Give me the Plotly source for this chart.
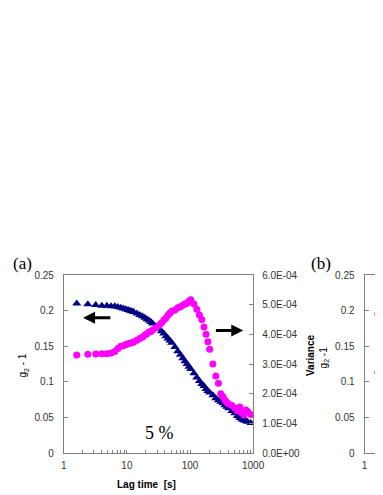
import plotly.graph_objects as go

W, H = 383, 495

# lag times of the correlator channels [s]
lag_time = [
    1.6, 2.4, 3.2, 4.0, 4.8, 5.6, 6.4, 7.2, 8.0, 8.8, 9.6, 10.4, 11.2, 12.0, 12.8,
    14.4, 16.0, 17.6, 19.2, 20.8, 22.4, 24.0, 25.6,
    28.8, 32.0, 35.2, 38.4, 41.6, 44.8, 48.0, 51.2,
    57.6, 64.0, 70.4, 76.8, 83.2, 89.6, 96.0, 102.4,
    115.2, 128.0, 140.8, 153.6, 166.4, 179.2, 192.0, 204.8,
    230.4, 256.0, 281.6, 307.2, 332.8, 358.4, 384.0, 409.6,
    460.8, 512.0, 563.2, 614.4, 665.6, 716.8, 768.0, 819.2,
    921.6,
]

# g2 - 1 (left axis, triangles)
g2_minus_1 = [
    0.210, 0.209, 0.208, 0.207, 0.207, 0.206, 0.206, 0.205, 0.204, 0.203,
    0.202, 0.201, 0.200, 0.199, 0.198,
    0.196, 0.194, 0.192, 0.190, 0.188, 0.186, 0.184, 0.182,
    0.178, 0.175, 0.171, 0.168, 0.164, 0.161, 0.158, 0.155,
    0.149, 0.143, 0.138, 0.133, 0.129, 0.125, 0.121, 0.118,
    0.112, 0.106, 0.101, 0.097, 0.094, 0.090, 0.087, 0.085,
    0.081, 0.077, 0.074, 0.072, 0.070, 0.067, 0.065, 0.063,
    0.059, 0.056, 0.052, 0.049, 0.047, 0.046, 0.045, 0.044,
    0.042,
]

# variance (right axis, circles)
variance = [
    3.30e-4, 3.33e-4, 3.34e-4, 3.35e-4, 3.35e-4, 3.37e-4, 3.42e-4, 3.52e-4,
    3.60e-4, 3.62e-4, 3.66e-4, 3.68e-4, 3.70e-4, 3.72e-4, 3.74e-4,
    3.80e-4, 3.86e-4, 3.90e-4, 3.98e-4, 4.02e-4, 4.08e-4, 4.10e-4, 4.15e-4,
    4.22e-4, 4.30e-4, 4.38e-4, 4.48e-4, 4.55e-4, 4.65e-4, 4.72e-4, 4.78e-4,
    4.82e-4, 4.90e-4, 4.93e-4, 4.98e-4, 5.02e-4, 5.05e-4, 5.12e-4, 5.17e-4,
    5.02e-4, 4.85e-4, 4.65e-4, 4.50e-4, 4.25e-4, 4.00e-4, 3.75e-4, 3.50e-4,
    3.00e-4, 2.60e-4, 2.35e-4, 2.00e-4, 1.90e-4, 1.78e-4, 1.70e-4, 1.65e-4,
    1.60e-4, 1.52e-4, 1.42e-4, 1.55e-4, 1.35e-4, 1.28e-4, 1.45e-4, 1.40e-4,
    1.30e-4,
]

var_tick_vals = [0, 1e-4, 2e-4, 3e-4, 4e-4, 5e-4, 6e-4]
var_tick_text = ["0.0E+00", "1.0E-04", "2.0E-04", "3.0E-04", "4.0E-04", "5.0E-04", "6.0E-04"]

# panel (b) is cut off by the crop, only the edge of two points shows
lag_time_b = [1.62, 1.62]
g2_b = [0.195, 0.113]

x_tick_vals = [m * 10 ** e for e in range(3) for m in range(1, 10)] + [1000]
x_tick_text = [str(v) if v in (1, 10, 100, 1000) else "" for v in x_tick_vals]

AX = "#808080"
TXT = "#333333"
sans = "Liberation Sans, Arial, sans-serif"
serif = "Liberation Serif, Times New Roman, serif"

y0, y1 = (H - 450) / H, (H - 268) / H

fig = go.Figure()
fig.add_trace(go.Scatter(x=lag_time, y=g2_minus_1, mode="markers",
                         marker=dict(symbol="triangle-up", size=8, color="#000080"),
                         xaxis="x", yaxis="y"))
fig.add_trace(go.Scatter(x=lag_time, y=variance, mode="markers",
                         marker=dict(symbol="circle", size=7, color="#ff00ff"),
                         xaxis="x", yaxis="y2"))
fig.add_trace(go.Scatter(x=lag_time_b, y=g2_b, mode="markers",
                         marker=dict(symbol="circle", size=7, color="#ff00ff"),
                         xaxis="x3", yaxis="y3"))

axis_common = dict(showgrid=False, zeroline=False, showline=True, linecolor=AX,
                   linewidth=1, ticks="inside", tickcolor=AX, ticklen=4,
                   tickfont=dict(family=sans, size=10, color=TXT))

fig.update_layout(
    width=W, height=H,
    margin=dict(l=0, r=0, t=0, b=0),
    paper_bgcolor="white", plot_bgcolor="white",
    showlegend=False,
    xaxis=dict(axis_common, type="log", range=[0, 3], domain=[55 / W, 252 / W],
               anchor="y", mirror=True, tickvals=x_tick_vals, ticktext=x_tick_text,
               ticklen=3, ticklabelstandoff=3),
    yaxis=dict(axis_common, range=[0, 0.25], dtick=0.05, domain=[y0, y1],
               anchor="x", ticklabelstandoff=7),
    yaxis2=dict(axis_common, range=[0, 6e-4], overlaying="y", side="right",
                anchor="x", tickvals=var_tick_vals, ticktext=var_tick_text,
                ticklabelstandoff=6),
    xaxis3=dict(axis_common, type="log", range=[0, 0.228], domain=[368 / W, 1],
                anchor="y3", mirror=True, tickvals=[1], ticktext=["1"],
                ticklabelstandoff=3),
    yaxis3=dict(axis_common, range=[0, 0.25], dtick=0.05, domain=[y0, y1],
                anchor="x3", ticklabelstandoff=7),
)

def px(x, y):
    return x / W, (H - y) / H

labels = [
    ("(a)", 12, 256, serif, 17, 0),
    ("(b)", 323, 256, serif, 17, 0),
    ("g<sub>2</sub> - 1", 13, 360, sans, 10, -90),
    ("<b>Variance</b>", 311, 350, sans, 10, -90),
    ("g<sub>2</sub> -1", 326, 352, sans, 10, -90),
    ("<b>Lag time  [s]</b>", 141, 482, sans, 10, 0),
]
for text, x, y, fam, size, ang in labels:
    ax_, ay_ = px(x, y)
    fig.add_annotation(text=text, x=ax_, y=ay_, xref="paper", yref="paper",
                       xanchor="center", yanchor="middle",
                       showarrow=False, textangle=ang,
                       font=dict(family=fam, size=size, color="black"))

fig.add_annotation(text="5 %", x=1.523, y=0.0275, xref="x", yref="y",
                   xanchor="center", yanchor="middle",
                   showarrow=False, font=dict(family=serif, size=18, color="black"))

# arrows pointing at the matching axis
fig.add_annotation(text="", x=0.305, y=0.19, ax=0.761, ay=0.19,
                   xref="x", yref="y", axref="x", ayref="y",
                   showarrow=True, arrowhead=2, arrowsize=0.8, arrowwidth=3,
                   arrowcolor="black")
fig.add_annotation(text="", x=2.843, y=0.172, ax=2.386, ay=0.172,
                   xref="x", yref="y", axref="x", ayref="y",
                   showarrow=True, arrowhead=2, arrowsize=0.8, arrowwidth=3,
                   arrowcolor="black")

fig.write_html("out.html")
